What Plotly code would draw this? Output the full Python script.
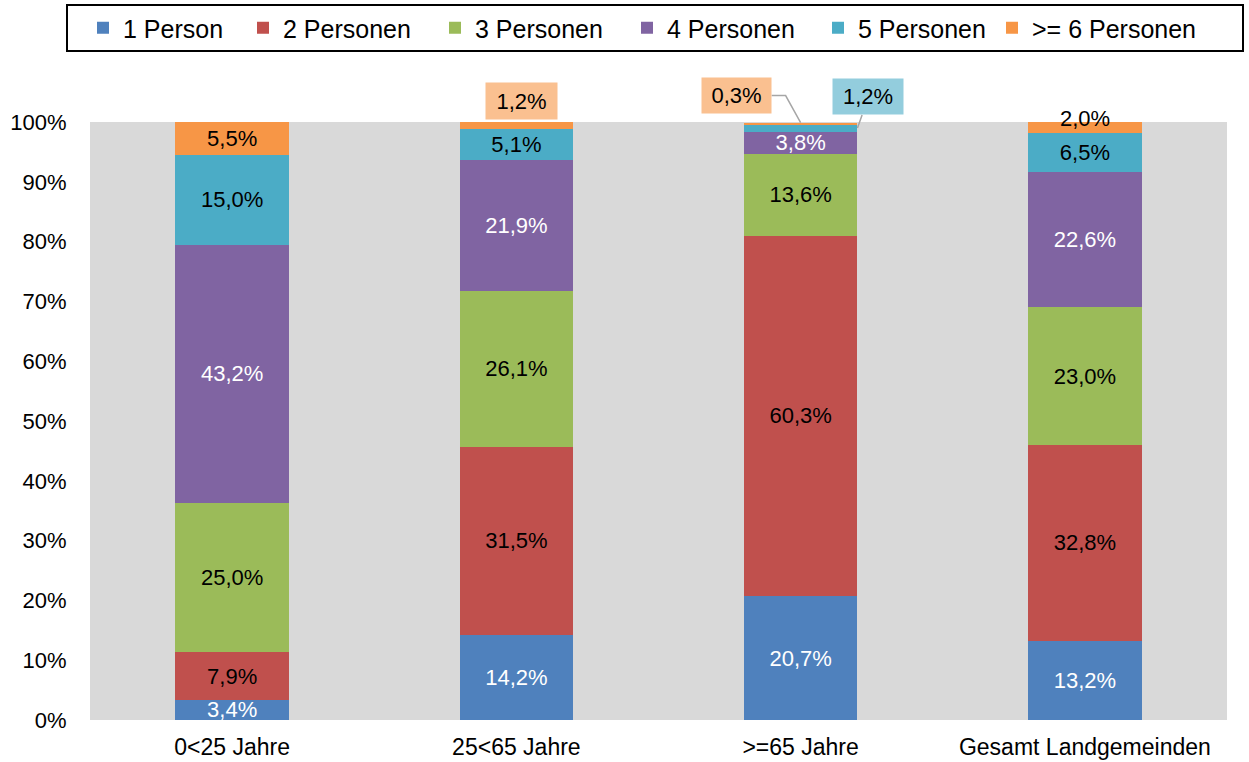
import plotly.graph_objects as go

# Haushaltsgröße nach Altersgruppe (Anteile in %)
categories = ["0<25 Jahre", "25<65 Jahre", ">=65 Jahre", "Gesamt Landgemeinden"]
series_names = ["1 Person", "2 Personen", "3 Personen", "4 Personen", "5 Personen", ">= 6 Personen"]

p1 = [3.4, 14.2, 20.7, 13.2]
p2 = [7.9, 31.5, 60.3, 32.8]
p3 = [25.0, 26.1, 13.6, 23.0]
p4 = [43.2, 21.9, 3.8, 22.6]
p5 = [15.0, 5.1, 1.2, 6.5]
p6 = [5.5, 1.2, 0.3, 2.0]

series_values = [p1, p2, p3, p4, p5, p6]
colors = ["#4F81BD", "#C0504D", "#9BBB59", "#8064A2", "#4BACC6", "#F79646"]
label_colors = ["white", "black", "black", "white", "black", "black"]

# segments whose labels are drawn as separate callouts (series index, category index)
callouts = {(5, 1), (5, 2), (4, 2), (5, 3)}

FONT = "Liberation Sans, Arial, sans-serif"

# page geometry (pixels)
WIDTH, HEIGHT = 1249, 762
M_L, M_R, M_T, M_B = 90, 22, 122, 42
W_PLOT = WIDTH - M_L - M_R
H_PLOT = HEIGHT - M_T - M_B


def px_x(px):
    return (px - M_L) / W_PLOT


def px_y(py):
    return (HEIGHT - M_B - py) / H_PLOT


def fmt(v):
    return f"{v:.1f}".replace(".", ",") + "%"


legend_ids = ["legend", "legend2", "legend3", "legend4", "legend5", "legend6"]
legend_left_px = [83, 243, 435, 627, 818, 992]

fig = go.Figure()
for s, (name, vals) in enumerate(zip(series_names, series_values)):
    texts = ["" if (s, c) in callouts else fmt(v) for c, v in enumerate(vals)]
    fig.add_trace(go.Bar(
        name=name,
        legend=legend_ids[s],
        x=list(range(len(categories))),
        y=vals,
        marker=dict(color=colors[s], line=dict(width=0)),
        text=texts,
        textposition="inside",
        insidetextanchor="middle",
        textangle=0,
        textfont=dict(family=FONT, size=22, color=label_colors[s]),
        hoverinfo="skip",
    ))

# cumulative stack bounds for placing callouts
cum = []
run = [0.0] * len(categories)
for vals in series_values:
    lo = run[:]
    run = [a + b for a, b in zip(run, vals)]
    cum.append((lo, run[:]))


def mid(s, c):
    lo, hi = cum[s]
    return (lo[c] + hi[c]) / 2


BAR_W = 0.4

annotations = []
# 25<65: >= 6 Personen
annotations.append(dict(
    x=1, y=mid(5, 1), xref="x", yref="y", text=fmt(p6[1]), showarrow=False,
    xshift=5, yshift=25, width=71, height=36, borderpad=0,
    bgcolor="#FAC090", font=dict(family=FONT, size=22, color="black"),
))
# >=65: >= 6 Personen with bent leader line
annotations.append(dict(
    x=2, y=mid(5, 2), xref="x", yref="y", text=fmt(p6[2]), showarrow=False,
    xshift=-64, yshift=28, width=69, height=35, borderpad=0,
    bgcolor="#FAC090", font=dict(family=FONT, size=22, color="black"),
))
# >=65: 5 Personen
annotations.append(dict(
    x=2 + BAR_W / 2, y=mid(4, 2), xref="x", yref="y", text=fmt(p5[2]),
    showarrow=True, arrowhead=0, arrowwidth=1.5, arrowcolor="#A6A6A6",
    ax=11, ay=-31, width=70, height=35, borderpad=0,
    bgcolor="#93CDDD", font=dict(family=FONT, size=22, color="black"),
))
# Gesamt: >= 6 Personen
annotations.append(dict(
    x=3, y=mid(5, 3), xref="x", yref="y", text=fmt(p6[3]), showarrow=False,
    yshift=9, font=dict(family=FONT, size=22, color="black"),
))

# leader line for the 0,3% callout (domain coordinates, so it is not clipped)
tip_x = (2 + 0.5) / len(categories)
tip_y = cum[5][1][2] / 100
box_y = tip_y + 27 / H_PLOT
p_start = (tip_x - 29 / W_PLOT, box_y)
p_bend = (tip_x - 15 / W_PLOT, box_y)
path = f"M {p_start[0]},{p_start[1]} L {p_bend[0]},{p_bend[1]} L {tip_x},{tip_y}"
shapes = [
    dict(type="path", path=path, xref="x domain", yref="y domain",
         line=dict(color="#A6A6A6", width=1.5), layer="above"),
    # frame around the legend row
    dict(type="rect", xref="paper", yref="paper",
         x0=px_x(67), x1=px_x(1243), y0=px_y(51), y1=px_y(5),
         line=dict(color="black", width=2), fillcolor="rgba(0,0,0,0)"),
]

legend_layouts = {}
for lid, lx in zip(legend_ids, legend_left_px):
    legend_layouts[lid] = dict(
        orientation="h",
        x=px_x(lx), xanchor="left",
        y=px_y(5), yanchor="top",
        borderwidth=0,
        bgcolor="rgba(0,0,0,0)",
        font=dict(family=FONT, size=25, color="black"),
        itemclick=False, itemdoubleclick=False,
    )

fig.update_layout(
    width=WIDTH, height=HEIGHT,
    barmode="stack",
    bargap=1 - BAR_W,
    separators=",.",
    paper_bgcolor="white",
    plot_bgcolor="#D9D9D9",
    margin=dict(l=M_L, r=M_R, t=M_T, b=M_B, pad=0, autoexpand=False),
    font=dict(family=FONT, size=22, color="black"),
    uniformtext=dict(minsize=22, mode="show"),
    showlegend=True,
    annotations=annotations,
    shapes=shapes,
    **legend_layouts,
)

fig.update_xaxes(
    tickmode="array",
    tickvals=list(range(len(categories))),
    ticktext=categories,
    range=[-0.5, len(categories) - 0.5],
    showgrid=False, zeroline=False, showline=False,
    ticks="outside", ticklen=6, tickcolor="rgba(0,0,0,0)",
    tickfont=dict(family=FONT, size=23, color="black"),
    automargin=False,
)
fig.update_yaxes(
    range=[0, 100],
    tickmode="linear", tick0=0, dtick=10,
    ticksuffix="%",
    showgrid=False, zeroline=False, showline=False,
    ticks="outside", ticklen=18, tickcolor="rgba(0,0,0,0)",
    tickfont=dict(family=FONT, size=22, color="black"),
    automargin=False,
)

fig.write_html("out.html")
